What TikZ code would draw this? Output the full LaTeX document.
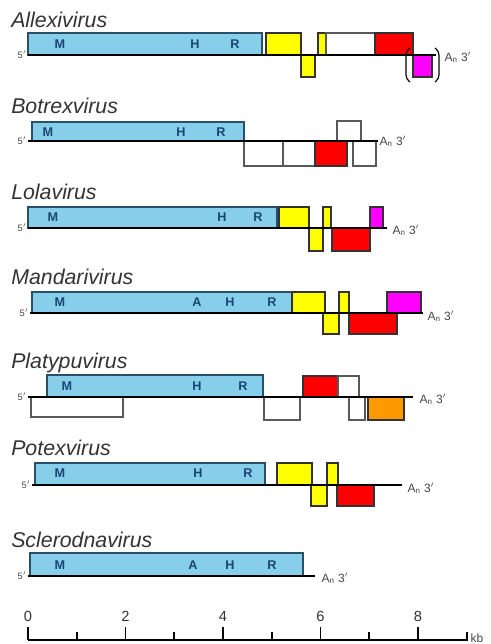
\documentclass[tikz,border=0pt]{standalone}
\usepackage{fontspec}
\setmainfont{Liberation Sans}
\usetikzlibrary{positioning}

\definecolor{rdrpblue}{RGB}{135,206,235}
\definecolor{rdrpedge}{RGB}{40,80,105}
\definecolor{motif}{RGB}{25,70,115}
\definecolor{tailgray}{RGB}{70,70,70}
\definecolor{orfyellow}{RGB}{255,255,0}
\definecolor{orfred}{RGB}{255,0,0}
\definecolor{orfpink}{RGB}{255,0,255}
\definecolor{orforange}{RGB}{255,153,0}

\tikzset{
  orf/.style={draw=black!80, line width=0.8pt},
  rdrp/.style={orf, draw=rdrpedge, fill=rdrpblue},
  tgb/.style={orf, fill=orfyellow},
  cp/.style={orf, fill=orfred},
  extra/.style={orf, draw=black!65, fill=white},
  genome/.style={line width=1.6pt, line cap=butt},
  virus/.style={anchor=base west, font=\fontsize{16}{19}\selectfont\itshape, text=black!80, inner sep=0pt},
  motiflabel/.style={font=\fontsize{9.5}{11}\selectfont\bfseries, text=motif, inner sep=0pt},
  fiveend/.style={anchor=east, font=\fontsize{7}{8}\selectfont, text=tailgray, inner sep=1pt},
  threeend/.style={anchor=west, font=\fontsize{9}{11}\selectfont, text=tailgray, inner sep=1pt},
  tick/.style={line width=1.4pt},
}

\begin{document}
\begin{tikzpicture}[x=0.75pt, y=-0.75pt]
\useasboundingbox (0,0) rectangle (491,644);

% Allexivirus
\node[virus] (allexi) at (11,27) {Allexivirus};
\filldraw[rdrp] (28,33) rectangle (262,55);
\filldraw[tgb] (266,33) rectangle (301,55);
\filldraw[tgb] (301,55) rectangle (315,77);
\filldraw[tgb] (318,33) rectangle (326,55);
\filldraw[extra] (326,33) rectangle (375,55);
\filldraw[cp] (375,33) rectangle (413,55);
\filldraw[orf, fill=orfpink] (413,55) rectangle (432,77);
\coordinate (s1) at (28,55);
\coordinate (e1) at (436,55);
\draw[genome] (s1) -- (e1);
\draw[line width=0.9pt, rounded corners=3pt] (410,48) -- (406,51) -- (406,79) -- (410,82);
\draw[line width=0.9pt, rounded corners=3pt] (435,48) -- (439,51) -- (439,79) -- (435,82);
\node[fiveend] (p5a) at (s1) {5$'$};
\node[threeend] (p3a) at (443,57) {A$_\mathrm{n}$ 3$'$};
\node[motiflabel] (ma) at (60,44) {M};
\node[motiflabel] (ha) at (195,44) {H};
\node[motiflabel] (ra) at (235,44) {R};

% Botrexvirus
\node[virus] (botrex) at (11,113) {Botrexvirus};
\filldraw[rdrp] (32,122) rectangle (244,141);
\filldraw[extra] (244,141) rectangle (283,166);
\filldraw[extra] (283,141) rectangle (315,166);
\filldraw[cp] (315,141) rectangle (347,166);
\filldraw[extra] (353,141) rectangle (376,166);
\filldraw[extra] (337,121) rectangle (361,141);
\coordinate (s2) at (28,141);
\coordinate (e2) at (378,141);
\draw[genome] (s2) -- (e2);
\node[fiveend] (p5b) at (s2) {5$'$};
\node[threeend] (p3b) at (e2) {A$_\mathrm{n}$ 3$'$};
\node[motiflabel] (mb) at (48,132) {M};
\node[motiflabel] (hb) at (181,132) {H};
\node[motiflabel] (rb) at (221,132) {R};

% Lolavirus
\node[virus] (lola) at (11,199) {Lolavirus};
\filldraw[rdrp] (28,207) rectangle (277,228);
\filldraw[tgb] (279,207) rectangle (309,228);
\filldraw[tgb] (309,228) rectangle (323,251);
\filldraw[tgb] (323,207) rectangle (331,228);
\filldraw[cp] (332,228) rectangle (370,251);
\filldraw[orf, fill=orfpink] (370,207) rectangle (383,228);
\coordinate (s3) at (28,228);
\coordinate (e3) at (387,228);
\draw[genome] (s3) -- (e3);
\node[fiveend] (p5c) at (s3) {5$'$};
\node[threeend] (p3c) at (391,230) {A$_\mathrm{n}$ 3$'$};
\node[motiflabel] (mc) at (53,217) {M};
\node[motiflabel] (hc) at (222,217) {H};
\node[motiflabel] (rc) at (258,217) {R};

% Mandarivirus
\node[virus] (mandari) at (11,284) {Mandarivirus};
\filldraw[rdrp] (32,292) rectangle (292,313);
\filldraw[tgb] (292,292) rectangle (325,313);
\filldraw[tgb] (323,313) rectangle (339,334);
\filldraw[tgb] (339,292) rectangle (349,313);
\filldraw[cp] (349,313) rectangle (397,334);
\filldraw[orf, fill=orfpink] (387,292) rectangle (421,313);
\coordinate (s4) at (30,313);
\coordinate (e4) at (423,313);
\draw[genome] (s4) -- (e4);
\node[fiveend] (p5d) at (s4) {5$'$};
\node[threeend] (p3d) at (426,316) {A$_\mathrm{n}$ 3$'$};
\node[motiflabel] (md) at (60,302) {M};
\node[motiflabel] (ad) at (197,302) {A};
\node[motiflabel] (hd) at (230,302) {H};
\node[motiflabel] (rd) at (272,302) {R};

% Platypuvirus
\node[virus] (platypu) at (11,368) {Platypuvirus};
\filldraw[rdrp] (47,375) rectangle (263,397);
\filldraw[extra] (31,397) rectangle (123,417);
\filldraw[extra] (264,397) rectangle (300,420);
\filldraw[cp] (303,376) rectangle (338,397);
\filldraw[extra] (338,376) rectangle (359,397);
\filldraw[extra] (349,397) rectangle (365,420);
\filldraw[orf, fill=orforange] (368,397) rectangle (404,420);
\coordinate (s5) at (28,397);
\coordinate (e5) at (413,397);
\draw[genome] (s5) -- (e5);
\node[fiveend] (p5e) at (s5) {5$'$};
\node[threeend] (p3e) at (418,399) {A$_\mathrm{n}$ 3$'$};
\node[motiflabel] (me) at (67,386) {M};
\node[motiflabel] (he) at (197,386) {H};
\node[motiflabel] (re) at (243,386) {R};

% Potexvirus
\node[virus] (potex) at (11,455) {Potexvirus};
\filldraw[rdrp] (35,463) rectangle (265,485);
\filldraw[tgb] (277,463) rectangle (312,485);
\filldraw[tgb] (311,485) rectangle (327,506);
\filldraw[tgb] (327,463) rectangle (338,485);
\filldraw[cp] (337,485) rectangle (374,506);
\coordinate (s6) at (32,485);
\coordinate (e6) at (402,485);
\draw[genome] (s6) -- (e6);
\node[fiveend] (p5f) at (s6) {5$'$};
\node[threeend] (p3f) at (406,488) {A$_\mathrm{n}$ 3$'$};
\node[motiflabel] (mf) at (60,473) {M};
\node[motiflabel] (hf) at (198,473) {H};
\node[motiflabel] (rf) at (248,473) {R};

% Sclerodnavirus
\node[virus] (sclerodna) at (11,547) {Sclerodnavirus};
\filldraw[rdrp] (30,553) rectangle (303,576);
\coordinate (s7) at (28,576);
\coordinate (e7) at (315,576);
\draw[genome] (s7) -- (e7);
\node[fiveend] (p5g) at (s7) {5$'$};
\node[threeend] (p3g) at (320,578) {A$_\mathrm{n}$ 3$'$};
\node[motiflabel] (mg) at (60,565) {M};
\node[motiflabel] (ag) at (193,565) {A};
\node[motiflabel] (hg) at (230,565) {H};
\node[motiflabel] (rg) at (272,565) {R};

% scale
\draw[tick] (28,640) -- (468,640);
\foreach \k in {0,2,4,6,8} {
  \draw[tick] (28+48.75*\k,627) -- (28+48.75*\k,640);
  \node[font=\fontsize{11}{13}\selectfont, text=black!80] (kb\k) at (28+48.75*\k,616) {\k};
}
\foreach \k in {1,3,5,7,9}
  \draw[tick] (28+48.75*\k,632) -- (28+48.75*\k,640);
\node[anchor=west, font=\fontsize{9}{11}\selectfont, text=tailgray, inner sep=1pt] (kbunit) at (469,638) {kb};

\end{tikzpicture}
\end{document}
